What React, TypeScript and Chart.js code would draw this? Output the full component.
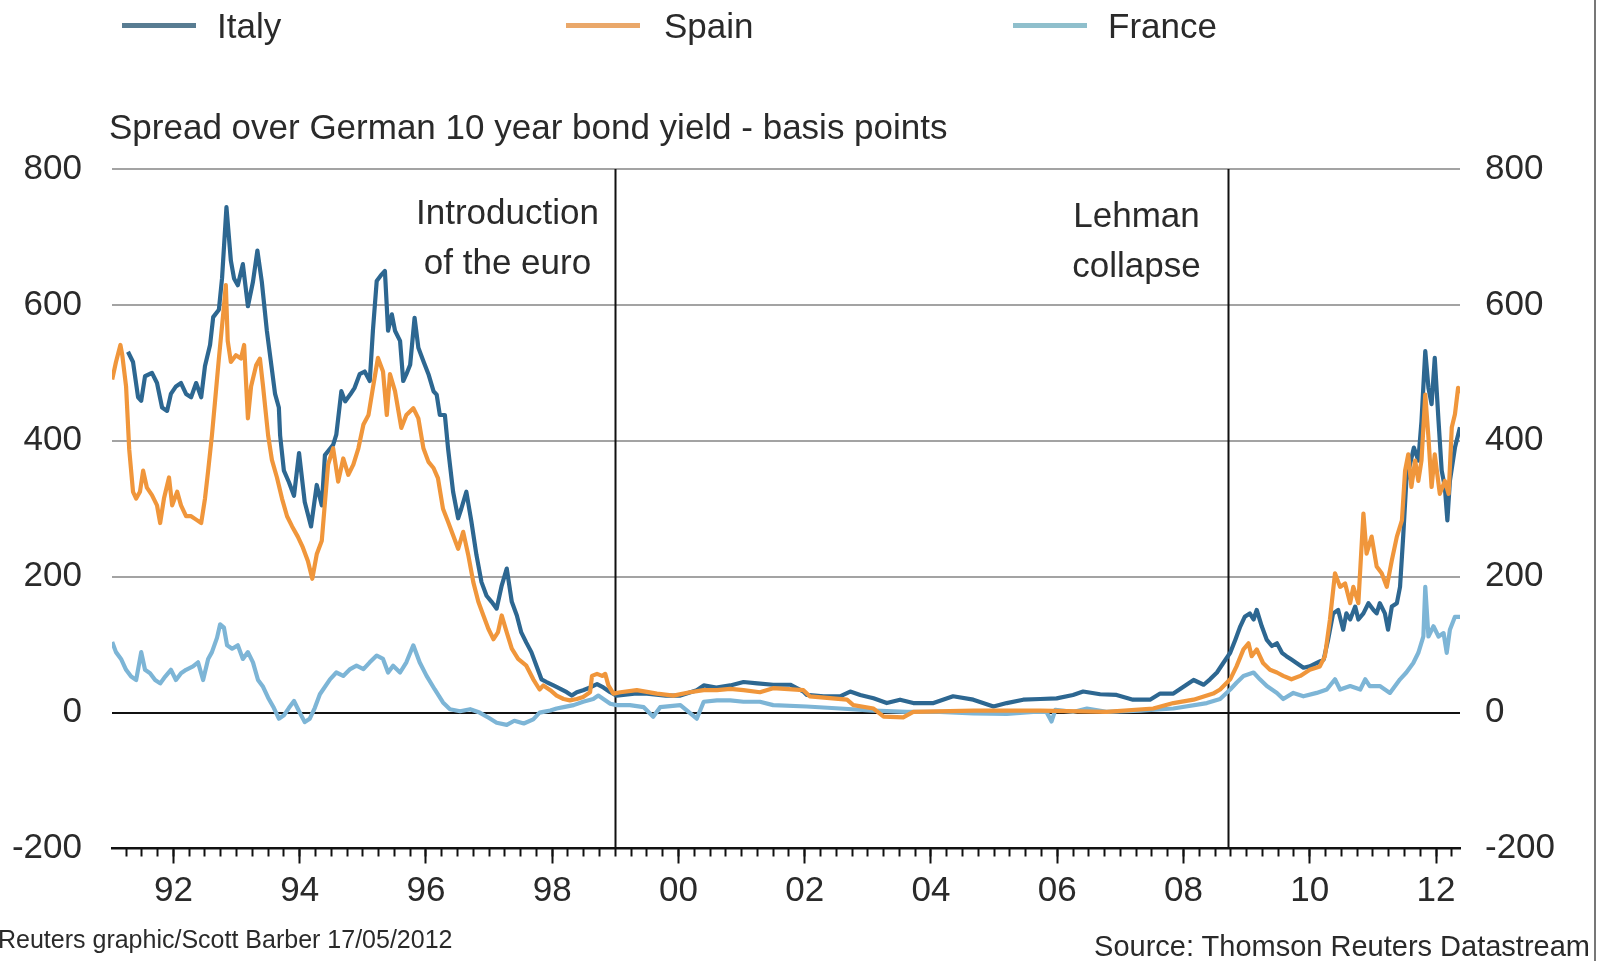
import React, { useEffect, useRef } from 'react';
import { Chart, registerables } from 'chart.js';

Chart.register(...registerables);

// ---- Data (decimal year, spread over German 10y bund in basis points) ----
const italyYears = [
  1991.28, 1991.36, 1991.44, 1991.49, 1991.55, 1991.66, 1991.74, 1991.82, 1991.90, 1991.96,
  1992.04, 1992.12, 1992.20, 1992.28, 1992.36, 1992.44, 1992.50, 1992.58, 1992.63, 1992.72, 1992.77, 1992.84, 1992.91, 1992.96,
  1993.02, 1993.10, 1993.18, 1993.26, 1993.33, 1993.40, 1993.48, 1993.56, 1993.61, 1993.67, 1993.69, 1993.75, 1993.83, 1993.91, 1993.99,
  1994.08, 1994.18, 1994.27, 1994.35, 1994.40, 1994.53, 1994.58, 1994.66, 1994.72, 1994.80, 1994.87, 1994.95,
  1995.03, 1995.11, 1995.16, 1995.22, 1995.30, 1995.35, 1995.40, 1995.46, 1995.51, 1995.59, 1995.64, 1995.69, 1995.75, 1995.82, 1995.88, 1995.96,
  1996.04, 1996.12, 1996.17, 1996.22, 1996.30, 1996.35, 1996.43, 1996.51, 1996.56, 1996.64, 1996.72, 1996.80, 1996.88, 1996.96,
  1997.04, 1997.12, 1997.20, 1997.28, 1997.36, 1997.44, 1997.51, 1997.59, 1997.67, 1997.75, 1997.83, 1997.91,
  1998.02, 1998.13, 1998.23, 1998.31, 1998.39, 1998.49, 1998.60, 1998.71, 1998.81, 1998.92,
  1999.02, 1999.30, 1999.50, 1999.80, 2000.03, 2000.29, 2000.40, 2000.60, 2000.82, 2001.03, 2001.25, 2001.50, 2001.77, 2001.98,
  2002.03, 2002.30, 2002.56, 2002.72, 2002.88, 2003.09, 2003.30, 2003.51, 2003.72, 2004.04, 2004.35, 2004.67, 2004.99, 2005.20, 2005.46, 2005.73, 2005.99, 2006.25, 2006.41, 2006.68, 2006.94, 2007.20, 2007.47, 2007.63, 2007.84,
  2008.16, 2008.32, 2008.42, 2008.53, 2008.63, 2008.74, 2008.82, 2008.90, 2008.97, 2009.05, 2009.11, 2009.16, 2009.24, 2009.32, 2009.40, 2009.48, 2009.56, 2009.63, 2009.71, 2009.79, 2009.90,
  2010.00, 2010.11, 2010.22, 2010.29, 2010.37, 2010.45, 2010.53, 2010.58, 2010.64, 2010.72, 2010.77, 2010.85, 2010.93,
  2011.01, 2011.06, 2011.11, 2011.19, 2011.24, 2011.30, 2011.38, 2011.43, 2011.48, 2011.53, 2011.59, 2011.65, 2011.72, 2011.77, 2011.83, 2011.88, 2011.93, 2011.98,
  2012.04, 2012.09, 2012.14, 2012.18, 2012.22, 2012.30, 2012.38,
];
const italySpread = [
  531, 516, 464, 459, 495, 500, 485, 449, 444, 469,
  480, 485, 469, 464, 485, 464, 510, 541, 582, 593, 639, 744, 665, 639,
  629, 660, 598, 634, 680, 634, 562, 505, 469, 449, 408, 356, 339, 319, 382,
  310, 274, 335, 305, 379, 394, 409, 473, 458, 468, 478, 498,
  502, 488, 562, 635, 645, 650, 562, 586, 562, 547, 488, 498, 512, 581, 537, 517,
  498, 473, 468, 438, 438, 389, 325, 286, 300, 325, 281, 232, 192, 172,
  163, 153, 187, 212, 163, 143, 118, 103, 89, 69, 49, 45,
  40, 35, 30, 25, 30, 33, 37, 42, 37, 30,
  25, 28, 28, 25, 25, 33, 40, 37, 40, 45, 43, 41, 41, 31,
  26, 24, 24, 31, 26, 21, 14, 19, 14, 14, 24, 19, 9, 14, 19, 20, 21, 26, 31, 27, 26, 19, 19, 28, 28,
  48, 41, 49, 59, 73, 88, 107, 127, 141, 146, 137, 151, 127, 107, 98, 102, 88, 83, 78, 73, 66,
  68, 73, 78, 107, 146, 151, 122, 146, 137, 156, 137, 146, 161,
  151, 146, 161, 146, 122, 156, 161, 185, 259, 341, 366, 390, 371, 429, 532, 478, 454, 522,
  429, 356, 332, 283, 341, 390, 420,
];

const spainYears = [
  1991.03, 1991.09, 1991.16, 1991.19, 1991.25, 1991.30, 1991.36, 1991.41, 1991.47, 1991.52, 1991.58, 1991.66, 1991.74, 1991.79, 1991.85, 1991.93, 1991.98,
  1992.06, 1992.12, 1992.20, 1992.28, 1992.36, 1992.44, 1992.50, 1992.55, 1992.61, 1992.66, 1992.72, 1992.79, 1992.83, 1992.86, 1992.91, 1992.99,
  1993.07, 1993.12, 1993.18, 1993.23, 1993.31, 1993.37, 1993.42, 1993.50, 1993.56, 1993.64, 1993.72, 1993.80, 1993.88, 1993.97,
  1994.05, 1994.13, 1994.20, 1994.27, 1994.35, 1994.45, 1994.53, 1994.61, 1994.69, 1994.77, 1994.85, 1994.93,
  1995.01, 1995.09, 1995.16, 1995.24, 1995.32, 1995.38, 1995.43, 1995.51, 1995.61, 1995.69, 1995.80, 1995.88, 1995.96,
  1996.04, 1996.12, 1996.19, 1996.27, 1996.35, 1996.43, 1996.51, 1996.59, 1996.67, 1996.75, 1996.83, 1996.91, 1996.99,
  1997.07, 1997.14, 1997.20, 1997.28, 1997.36, 1997.46, 1997.59, 1997.70, 1997.80, 1997.86, 1997.97,
  1998.07, 1998.18, 1998.28, 1998.39, 1998.49, 1998.60, 1998.63, 1998.71, 1998.79, 1998.84, 1998.89, 1998.97,
  1999.08, 1999.34, 1999.66, 1999.92, 2000.18, 2000.40, 2000.61, 2000.82, 2001.03, 2001.29, 2001.50, 2001.98,
  2002.08, 2002.67, 2002.77, 2003.09, 2003.25, 2003.56, 2003.72, 2004.67, 2005.73, 2006.78, 2007.52, 2007.84, 2008.16, 2008.47,
  2008.58, 2008.74, 2008.84, 2008.95, 2009.03, 2009.08, 2009.16, 2009.26, 2009.37, 2009.48, 2009.58, 2009.71, 2009.85,
  2010.00, 2010.16, 2010.24, 2010.32, 2010.40, 2010.48, 2010.56, 2010.64, 2010.69, 2010.77, 2010.85, 2010.90, 2010.98,
  2011.06, 2011.14, 2011.22, 2011.30, 2011.38, 2011.46, 2011.51, 2011.56, 2011.61, 2011.67, 2011.72, 2011.77, 2011.83, 2011.88, 2011.93, 2011.98,
  2012.06, 2012.14, 2012.20, 2012.25, 2012.30, 2012.35, 2012.38,
];
const spainSpread = [
  490, 516, 541, 526, 480, 387, 325, 315, 325, 356, 331, 320, 305, 279, 315, 346, 305,
  325, 305, 289, 289, 284, 279, 315, 356, 408, 459, 521, 588, 629, 547, 516, 526,
  521, 541, 433, 480, 511, 521, 480, 408, 372, 346, 315, 289, 274, 259,
  243, 223, 197, 233, 253, 365, 389, 340, 374, 350, 365, 389,
  424, 438, 478, 522, 502, 438, 498, 473, 419, 438, 448, 433, 389,
  369, 360, 345, 300, 281, 261, 241, 266, 232, 192, 163, 143, 123,
  108, 118, 143, 118, 94, 79, 69, 49, 34, 40, 33,
  25, 20, 18, 20, 23, 30, 54, 57, 54, 57, 40, 28,
  30, 33, 28, 25, 30, 33, 33, 35, 33, 30, 36, 33,
  24, 19, 11, 6, -6, -7, 1, 3, 3, 1, 6, 14, 19, 28,
  34, 49, 68, 93, 102, 83, 93, 73, 63, 59, 54, 49, 54,
  63, 68, 83, 137, 205, 185, 190, 161, 185, 161, 293, 234, 259,
  215, 205, 185, 224, 259, 283, 356, 380, 332, 371, 341, 371, 468, 405, 332, 380,
  322, 341, 322, 420, 439, 478, 470,
];

const franceYears = [
  1991.03, 1991.09, 1991.17, 1991.25, 1991.33, 1991.41, 1991.49, 1991.55, 1991.63, 1991.71, 1991.79, 1991.87, 1991.96,
  1992.04, 1992.12, 1992.20, 1992.31, 1992.39, 1992.47, 1992.55, 1992.61, 1992.69, 1992.74, 1992.80, 1992.85, 1992.93,
  1993.02, 1993.10, 1993.18, 1993.26, 1993.34, 1993.42, 1993.50, 1993.59, 1993.67, 1993.75, 1993.83, 1993.91, 1993.99,
  1994.08, 1994.16, 1994.24, 1994.32, 1994.48, 1994.58, 1994.69, 1994.80, 1994.90,
  1995.01, 1995.11, 1995.22, 1995.32, 1995.40, 1995.48, 1995.59, 1995.69, 1995.80, 1995.90,
  1996.01, 1996.14, 1996.27, 1996.38, 1996.54, 1996.70, 1996.85,
  1997.00, 1997.12, 1997.28, 1997.40, 1997.55, 1997.70, 1997.80, 1997.86, 1997.97,
  1998.07, 1998.18, 1998.34, 1998.49, 1998.65, 1998.73, 1998.81, 1998.92,
  1999.02, 1999.23, 1999.45, 1999.60, 1999.71,
  2000.03, 2000.29, 2000.40, 2000.61, 2000.82, 2001.03, 2001.29, 2001.50,
  2002.03, 2002.56, 2003.09, 2003.62, 2004.14, 2004.67, 2005.20, 2005.62, 2005.83, 2005.91, 2005.97, 2006.25, 2006.47, 2006.78, 2007.31, 2007.84, 2008.37,
  2008.58, 2008.74, 2008.84, 2008.95, 2009.11, 2009.21, 2009.32, 2009.48, 2009.58, 2009.74, 2009.90,
  2010.11, 2010.27, 2010.40, 2010.48, 2010.64, 2010.80, 2010.88, 2010.95,
  2011.11, 2011.27, 2011.43, 2011.53, 2011.64, 2011.72, 2011.80, 2011.83, 2011.88, 2011.96,
  2012.04, 2012.12, 2012.17, 2012.22, 2012.30, 2012.38,
];
const franceSpread = [
  104, 89, 79, 63, 53, 48, 89, 63, 58, 48, 43, 53, 63,
  48, 58, 63, 68, 74, 48, 79, 89, 110, 130, 125, 99, 94,
  99, 79, 89, 74, 48, 38, 22, 7, -9, -4, 7, 17, 2,
  -14, -9, 7, 27, 49, 59, 54, 64, 69,
  64, 74, 84, 79, 59, 69, 59, 74, 99, 74,
  54, 34, 15, 5, 2, 5, 0,
  -8, -15, -18, -12, -16, -10, 0, 1, 3,
  6, 8, 11, 16, 20, 25, 20, 13,
  11, 11, 8, -6, 8,
  11, -9, 16, 18, 18, 16, 16, 11,
  9, 6, 3, 1, 1, -1, -2, 1, 1, -13, 4, 1, 6, 1, 3, 6, 14,
  20, 34, 44, 54, 59, 49, 39, 29, 20, 29, 24,
  29, 34, 49, 34, 39, 34, 49, 39,
  39, 29, 49, 59, 73, 88, 112, 185, 112, 127,
  112, 117, 88, 122, 141, 141,
];

// Axis settings
const xMin = 1991.027;
const xMax = 2012.38;
const yearTickLabels = [1992, 1994, 1996, 1998, 2000, 2002, 2004, 2006, 2008, 2010, 2012];
const yTickValues = [-200, 0, 200, 400, 600, 800];

// Event markers
const eventYears = [1999.0, 2008.7];
const eventLabels = [
  ['Introduction', 'of the euro'],
  ['Lehman', 'collapse'],
];

const FONT = '"Liberation Sans", Arial, Helvetica, sans-serif';
const ITALY = '#2d6791';
const SPAIN = '#f0963b';
const FRANCE = '#7db5d6';

export default function App() {
  const canvasRef = useRef<HTMLCanvasElement | null>(null);

  useEffect(() => {
    document.body.style.margin = '0';
    const canvas = canvasRef.current;
    if (!canvas) return;

    const toXY = (xs: number[], ys: number[]) => xs.map((x, i) => ({ x, y: ys[i] }));

    const quarterTicks: { value: number }[] = [];
    for (let yr = Math.floor(xMin); yr <= Math.ceil(xMax); yr++) {
      for (let q = 0; q < 4; q++) {
        const v = yr + q / 4;
        if (v > xMin + 0.01 && v <= xMax) quarterTicks.push({ value: v });
      }
    }

    const eventPlugin = {
      id: 'eventMarkers',
      beforeDatasetsDraw(chart: any) {
        const { ctx, chartArea, scales } = chart;
        const xs = scales.x;
        const offsets = [
          { dx: -108, y0: 224 },
          { dx: -92, y0: 227 },
        ];
        ctx.save();
        eventYears.forEach((yr, idx) => {
          const px = Math.round(xs.getPixelForValue(yr)) + 0.5;
          ctx.strokeStyle = '#111';
          ctx.lineWidth = 2;
          ctx.beginPath();
          ctx.moveTo(px, chartArea.top);
          ctx.lineTo(px, chartArea.bottom);
          ctx.stroke();
          ctx.fillStyle = '#2a2a2a';
          ctx.font = `35px ${FONT}`;
          ctx.textAlign = 'center';
          ctx.textBaseline = 'alphabetic';
          eventLabels[idx].forEach((t, i) => {
            ctx.fillText(t, px + offsets[idx].dx, offsets[idx].y0 + i * 50);
          });
        });
        ctx.restore();
      },
    };

    const tickFont = { family: FONT, size: 35 };
    const lineW = 4.2;

    const chart = new Chart(canvas, {
      type: 'line',
      data: {
        datasets: [
          {
            label: 'Spain',
            data: toXY(spainYears, spainSpread),
            borderColor: SPAIN,
            borderWidth: lineW,
            pointRadius: 0,
            tension: 0,
            borderJoinStyle: 'round',
            xAxisID: 'x',
            yAxisID: 'y',
            order: 1,
          },
          {
            label: 'Italy',
            data: toXY(italyYears, italySpread),
            borderColor: ITALY,
            borderWidth: lineW,
            pointRadius: 0,
            tension: 0,
            borderJoinStyle: 'round',
            xAxisID: 'x',
            yAxisID: 'y',
            order: 2,
          },
          {
            label: 'France',
            data: toXY(franceYears, franceSpread),
            borderColor: FRANCE,
            borderWidth: lineW,
            pointRadius: 0,
            tension: 0,
            borderJoinStyle: 'round',
            xAxisID: 'x',
            yAxisID: 'y',
            order: 3,
          },
        ],
      },
      options: {
        animation: false,
        responsive: false,
        maintainAspectRatio: false,
        events: [],
        layout: { padding: { top: 169, left: 0, right: 0, bottom: 0 } },
        plugins: {
          legend: { display: false },
          tooltip: { enabled: false },
          title: { display: false },
        },
        scales: {
          xMinor: {
            type: 'linear',
            position: 'bottom',
            weight: 0,
            min: xMin,
            max: xMax,
            bounds: 'data',
            afterFit: (s: any) => {
              s.height = 0;
            },
            afterBuildTicks: (s: any) => {
              s.ticks = quarterTicks.map((t) => ({ value: t.value }));
            },
            border: { display: false },
            grid: {
              drawOnChartArea: false,
              drawTicks: true,
              tickLength: 8,
              tickWidth: 2,
              tickColor: '#111',
            },
            ticks: { display: false },
          },
          x: {
            type: 'linear',
            position: 'bottom',
            weight: 1,
            min: xMin,
            max: xMax,
            bounds: 'data',
            afterFit: (s: any) => {
              s.height = 112.5;
            },
            afterBuildTicks: (s: any) => {
              s.ticks = yearTickLabels.map((v) => ({ value: v }));
            },
            border: { display: true, color: '#111', width: 2.5 },
            grid: {
              drawOnChartArea: false,
              drawTicks: true,
              tickLength: 15,
              tickWidth: 2,
              tickColor: '#111',
            },
            ticks: {
              autoSkip: false,
              maxRotation: 0,
              minRotation: 0,
              padding: 7,
              color: '#2a2a2a',
              font: tickFont,
              callback: (v: any) => String(Math.round(Number(v)) % 100).padStart(2, '0'),
            },
          },
          y: {
            type: 'linear',
            position: 'left',
            min: -200,
            max: 800,
            afterFit: (s: any) => {
              s.width = 112;
            },
            afterBuildTicks: (s: any) => {
              s.ticks = yTickValues.map((v) => ({ value: v }));
            },
            border: { display: false },
            grid: {
              drawTicks: false,
              lineWidth: 2,
              color: (ctx: any) => {
                const v = ctx.tick ? ctx.tick.value : null;
                if (v === 0) return '#111';
                if (v === -200) return 'rgba(0,0,0,0)';
                return '#a3a3a3';
              },
            },
            ticks: {
              padding: 30,
              color: '#2a2a2a',
              font: tickFont,
            },
          },
          y2: {
            type: 'linear',
            position: 'right',
            min: -200,
            max: 800,
            afterFit: (s: any) => {
              s.width = 139;
            },
            afterBuildTicks: (s: any) => {
              s.ticks = yTickValues.map((v) => ({ value: v }));
            },
            border: { display: false },
            grid: { display: false, drawTicks: false },
            ticks: {
              padding: 25,
              color: '#2a2a2a',
              font: tickFont,
            },
          },
        },
      },
      plugins: [eventPlugin],
    } as any);

    return () => {
      chart.destroy();
    };
  }, []);

  const textStyle: React.CSSProperties = {
    position: 'absolute',
    fontFamily: FONT,
    color: '#2a2a2a',
    whiteSpace: 'nowrap',
  };

  const legendItems = [
    { name: 'Italy', color: '#587c92', lineX: 122, textX: 217 },
    { name: 'Spain', color: '#eaa86a', lineX: 566, textX: 664 },
    { name: 'France', color: '#8fbfcc', lineX: 1013, textX: 1108 },
  ];

  return (
    <div style={{ position: 'relative', width: 1599, height: 961, overflow: 'hidden', background: '#fff' }}>
      <style>{'body{margin:0;}'}</style>
      <canvas ref={canvasRef} width={1599} height={961} style={{ position: 'absolute', left: 0, top: 0 }} />
      {legendItems.map((it) => (
        <React.Fragment key={it.name}>
          <div
            style={{
              position: 'absolute',
              left: it.lineX,
              top: 23,
              width: 74,
              height: 5,
              background: it.color,
            }}
          />
          <div style={{ ...textStyle, left: it.textX, top: 6, height: 40, lineHeight: '40px', fontSize: 35 }}>
            {it.name}
          </div>
        </React.Fragment>
      ))}
      <div style={{ ...textStyle, left: 109, top: 107, height: 40, lineHeight: '40px', fontSize: 35 }}>
        Spread over German 10 year bond yield - basis points
      </div>
      <div style={{ ...textStyle, left: -2, top: 925, height: 28, lineHeight: '28px', fontSize: 25 }}>
        Reuters graphic/Scott Barber 17/05/2012
      </div>
      <div style={{ ...textStyle, right: 9, top: 930, height: 32, lineHeight: '32px', fontSize: 29 }}>
        Source: Thomson Reuters Datastream
      </div>
      <div style={{ position: 'absolute', left: 1594, top: 0, width: 2, height: 961, background: '#777' }} />
    </div>
  );
}
